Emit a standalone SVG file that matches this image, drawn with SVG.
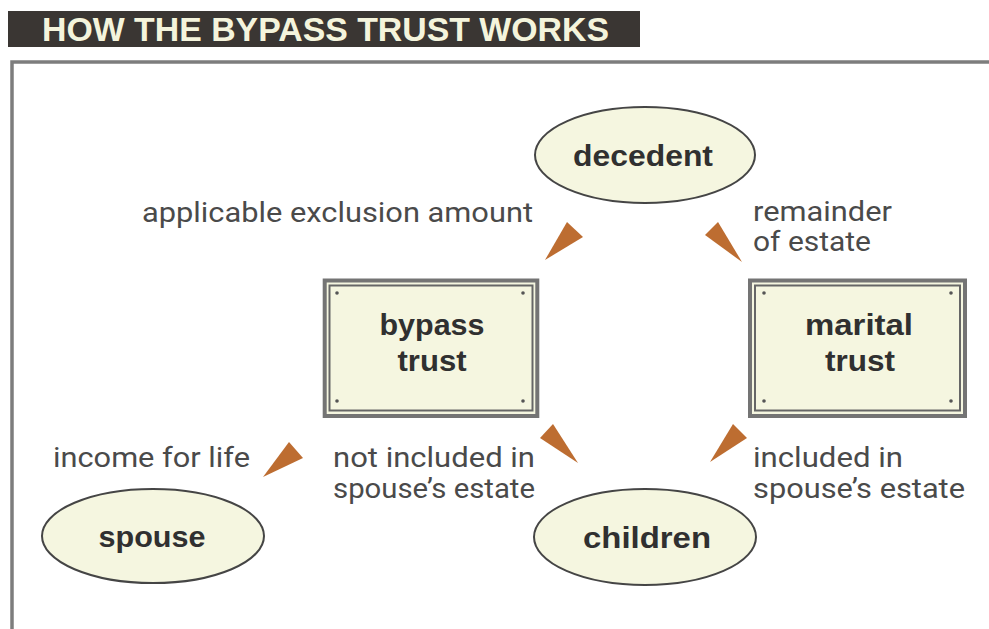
<svg xmlns="http://www.w3.org/2000/svg" width="989" height="629" viewBox="0 0 989 629">
  <style>
    .title { font-family: "Liberation Sans", Arial, sans-serif; font-weight: bold; font-size: 33px; fill: #f4f4dc; }
    .node-shape { fill: #f5f6e0; stroke: #454545; stroke-width: 2; }
    .box-outer { fill: #f5f6e0; stroke: #747474; stroke-width: 4; }
    .box-inner { fill: none; stroke: #666; stroke-width: 2; }
    .rivet { fill: #555; }
    .node-text { font-family: "Liberation Sans", Arial, sans-serif; font-weight: bold; font-size: 30px; fill: #303030; text-anchor: middle; }
    .label { font-family: Roboto, "Liberation Sans", Arial, sans-serif; font-size: 28px; fill: #4a4a4a; }
    .wedge { fill: #bd6d31; }
  </style>

  <!-- heading bar -->
  <g id="heading">
    <rect x="8" y="11" width="632" height="36" fill="#3a3633"/>
    <text class="title" x="42" y="41" textLength="567" lengthAdjust="spacingAndGlyphs">HOW THE BYPASS TRUST WORKS</text>
  </g>

  <!-- panel frame -->
  <path d="M12 629 V62 H989" fill="none" stroke="#7d7d7d" stroke-width="3.5"/>

  <!-- connectors: direction wedges -->
  <g id="connectors">
    <polygon class="wedge" points="545,260 567,222 583,237"/>
    <polygon class="wedge" points="705,235 718,222 742,262"/>
    <polygon class="wedge" points="263,477 289,442 303,458"/>
    <polygon class="wedge" points="540,438 553,424 578,463"/>
    <polygon class="wedge" points="710,462 733,424 747,438"/>
  </g>

  <!-- flow labels -->
  <g id="labels">
    <text class="label" x="142" y="222" textLength="391" lengthAdjust="spacingAndGlyphs">applicable exclusion amount</text>
    <text class="label" x="753" y="221" textLength="139" lengthAdjust="spacingAndGlyphs">remainder</text>
    <text class="label" x="753" y="251" textLength="118" lengthAdjust="spacingAndGlyphs">of estate</text>
    <text class="label" x="53" y="467" textLength="197" lengthAdjust="spacingAndGlyphs">income for life</text>
    <text class="label" x="333" y="467" textLength="202" lengthAdjust="spacingAndGlyphs">not included in</text>
    <text class="label" x="333" y="498" textLength="202" lengthAdjust="spacingAndGlyphs">spouse’s estate</text>
    <text class="label" x="753" y="467" textLength="150" lengthAdjust="spacingAndGlyphs">included in</text>
    <text class="label" x="753" y="498" textLength="212" lengthAdjust="spacingAndGlyphs">spouse’s estate</text>
  </g>

  <g id="decedent">
    <ellipse class="node-shape" cx="645" cy="155" rx="110" ry="48"/>
    <text class="node-text" x="643" y="166" textLength="140" lengthAdjust="spacingAndGlyphs">decedent</text>
  </g>

  <g id="bypass-trust">
    <rect class="box-outer" x="324.7" y="280.5" width="212.6" height="135.5"/>
    <rect class="box-inner" x="329.5" y="285.5" width="203" height="125"/>
    <circle class="rivet" cx="337" cy="293" r="1.8"/>
    <circle class="rivet" cx="523" cy="293" r="1.8"/>
    <circle class="rivet" cx="337" cy="401" r="1.8"/>
    <circle class="rivet" cx="523" cy="401" r="1.8"/>
    <text class="node-text" x="432" y="335" textLength="105" lengthAdjust="spacingAndGlyphs">bypass</text>
    <text class="node-text" x="432" y="371" textLength="69" lengthAdjust="spacingAndGlyphs">trust</text>
  </g>

  <g id="marital-trust">
    <rect class="box-outer" x="750" y="280.5" width="215" height="135.5"/>
    <rect class="box-inner" x="755" y="285.5" width="205" height="125"/>
    <circle class="rivet" cx="764" cy="293" r="1.8"/>
    <circle class="rivet" cx="951" cy="293" r="1.8"/>
    <circle class="rivet" cx="764" cy="401" r="1.8"/>
    <circle class="rivet" cx="951" cy="401" r="1.8"/>
    <text class="node-text" x="859" y="335" textLength="108" lengthAdjust="spacingAndGlyphs">marital</text>
    <text class="node-text" x="860" y="371" textLength="70" lengthAdjust="spacingAndGlyphs">trust</text>
  </g>

  <g id="spouse">
    <ellipse class="node-shape" cx="153" cy="536" rx="111" ry="47"/>
    <text class="node-text" x="152" y="547" textLength="107" lengthAdjust="spacingAndGlyphs">spouse</text>
  </g>

  <g id="children">
    <ellipse class="node-shape" cx="645" cy="537" rx="111" ry="48"/>
    <text class="node-text" x="647" y="548" textLength="128" lengthAdjust="spacingAndGlyphs">children</text>
  </g>
</svg>
